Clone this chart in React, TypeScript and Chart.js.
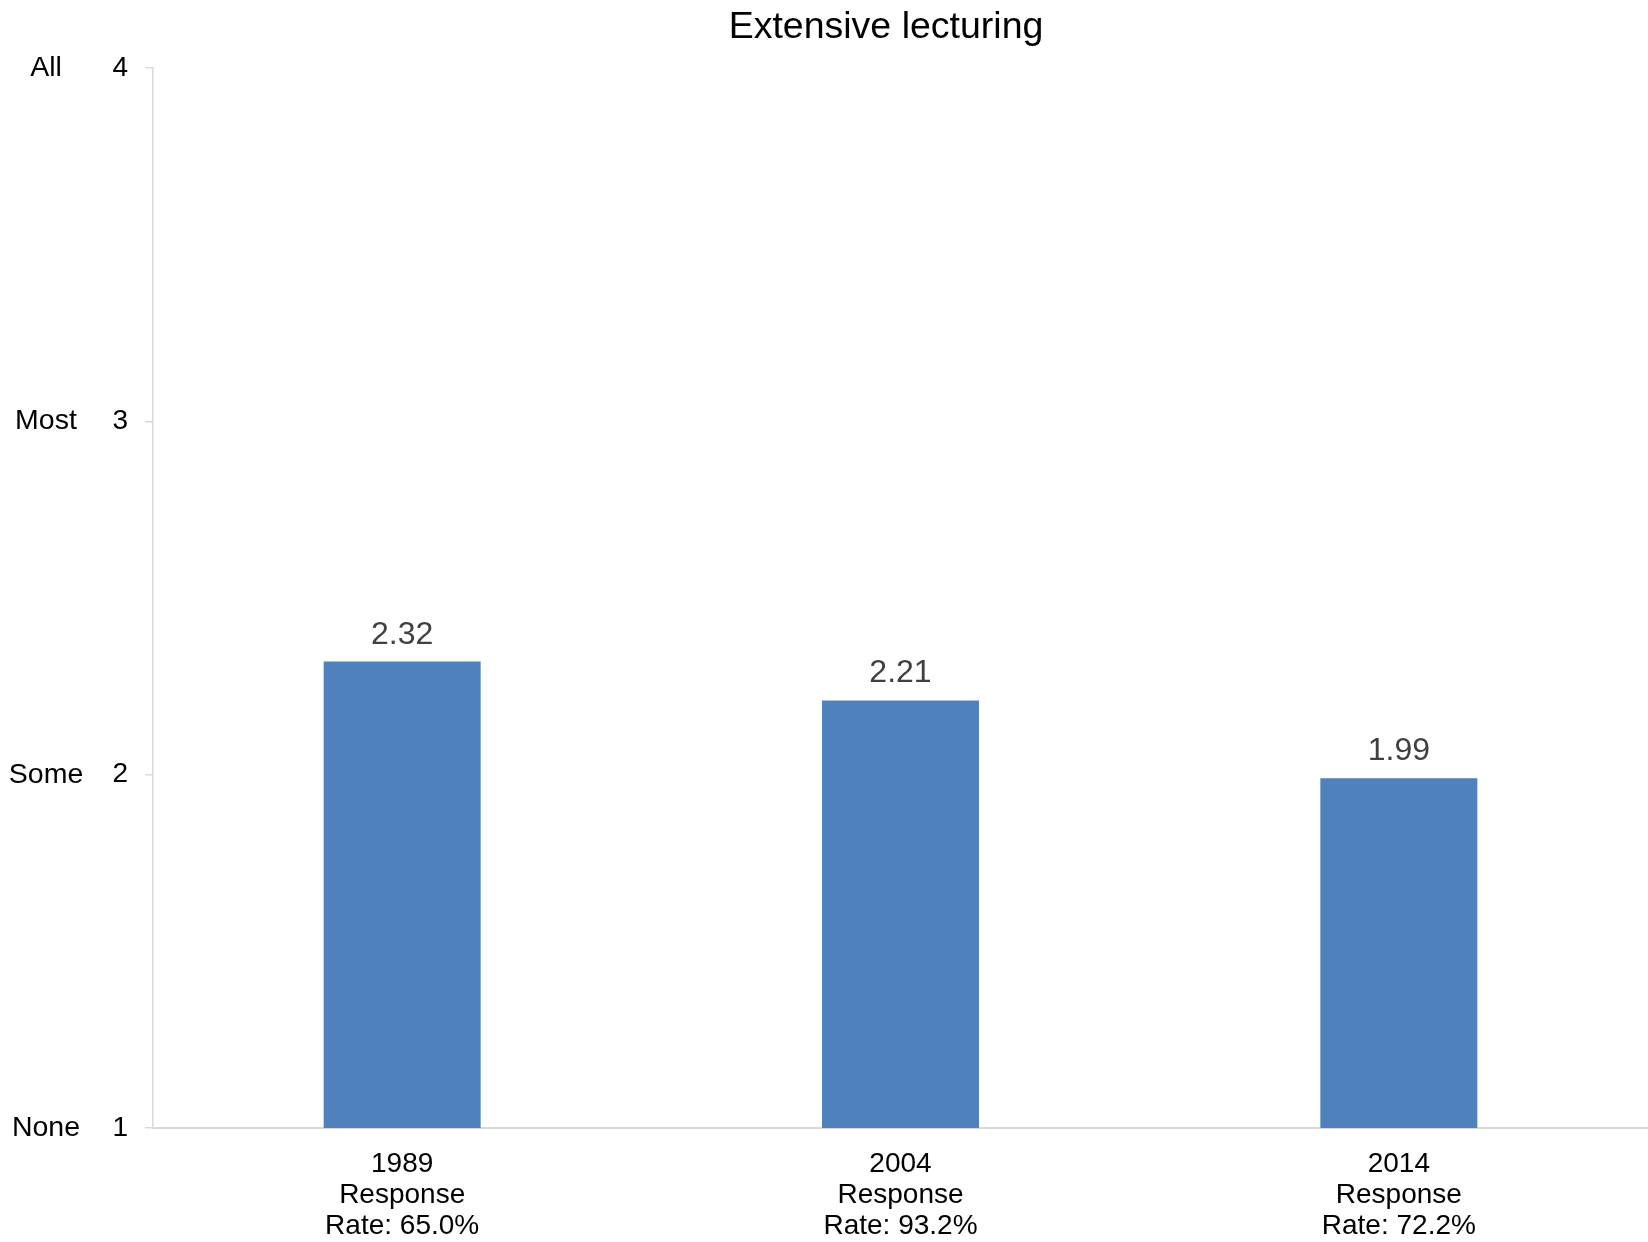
import React, { useEffect, useRef } from 'react';
import { Chart, registerables } from 'chart.js';

Chart.register(...registerables);

const chartTitle = 'Extensive lecturing';
const years = ['1989', '2004', '2014'];
const responseRates = ['65.0%', '93.2%', '72.2%'];
const meanScores = [2.32, 2.21, 1.99];
const scaleValues = [1, 2, 3, 4];
const scaleWords = ['None', 'Some', 'Most', 'All'];

const FONT = '"Liberation Sans", Arial, Helvetica, sans-serif';
const BAR_COLOR = '#4F81BD';
const AXIS_COLOR = '#d9d9d9';

const categoryLabels = years.map((y, i) => [y, 'Response', 'Rate: ' + responseRates[i]]);

const decorPlugin = {
  id: 'decor',
  afterDraw(chart: any) {
    const ctx = chart.ctx;
    const yScale = chart.scales.y;
    ctx.save();
    // Title
    ctx.fillStyle = '#000000';
    ctx.font = `37.5px ${FONT}`;
    ctx.textAlign = 'center';
    ctx.textBaseline = 'alphabetic';
    ctx.fillText(chartTitle, 886, 38);
    // Scale words
    ctx.font = `28.5px ${FONT}`;
    ctx.textBaseline = 'middle';
    scaleValues.forEach((v, i) => {
      const y = yScale.getPixelForValue(v);
      ctx.fillText(scaleWords[i], 46, y);
    });
    // Value labels
    ctx.fillStyle = '#404040';
    ctx.font = `32px ${FONT}`;
    ctx.textBaseline = 'alphabetic';
    const meta = chart.getDatasetMeta(0);
    meta.data.forEach((bar: any, i: number) => {
      ctx.fillText(meanScores[i].toFixed(2), bar.x, bar.y - 18);
    });
    ctx.restore();
  },
};

export default function App() {
  const canvasRef = useRef<HTMLCanvasElement | null>(null);

  useEffect(() => {
    if (!canvasRef.current) return;
    const chart = new Chart(canvasRef.current, {
      type: 'bar',
      data: {
        labels: categoryLabels,
        datasets: [
          {
            data: meanScores,
            backgroundColor: BAR_COLOR,
            borderWidth: 0,
            categoryPercentage: 1,
            barPercentage: 0.315,
          },
        ],
      },
      options: {
        responsive: false,
        animation: false,
        layout: { padding: { top: 68, left: 0, right: 0, bottom: 0 } },
        plugins: {
          legend: { display: false },
          title: { display: false },
          tooltip: { enabled: false },
        },
        scales: {
          x: {
            grid: { display: false },
            border: { display: true, color: AXIS_COLOR, width: 2 },
            ticks: {
              color: '#000000',
              font: { family: FONT, size: 28, lineHeight: 1.1 },
              padding: 13,
              maxRotation: 0,
              autoSkip: false,
            },
            afterFit(scale: any) {
              scale.height = 114;
            },
          },
          y: {
            min: 1,
            max: 4,
            grid: {
              drawOnChartArea: false,
              drawTicks: true,
              tickLength: 8,
              color: AXIS_COLOR,
              lineWidth: 1.5,
            },
            border: { display: true, color: AXIS_COLOR, width: 1.5 },
            ticks: {
              stepSize: 1,
              color: '#000000',
              font: { family: FONT, size: 28 },
              padding: 17,
            },
            afterFit(scale: any) {
              scale.width = 153;
            },
          },
        },
      },
      plugins: [decorPlugin],
    });
    return () => chart.destroy();
  }, []);

  return (
    <div style={{ position: 'absolute', left: 0, top: 0, width: 1648, height: 1242, background: '#ffffff' }}>
      <canvas ref={canvasRef} width={1648} height={1242} style={{ display: 'block' }} />
    </div>
  );
}
